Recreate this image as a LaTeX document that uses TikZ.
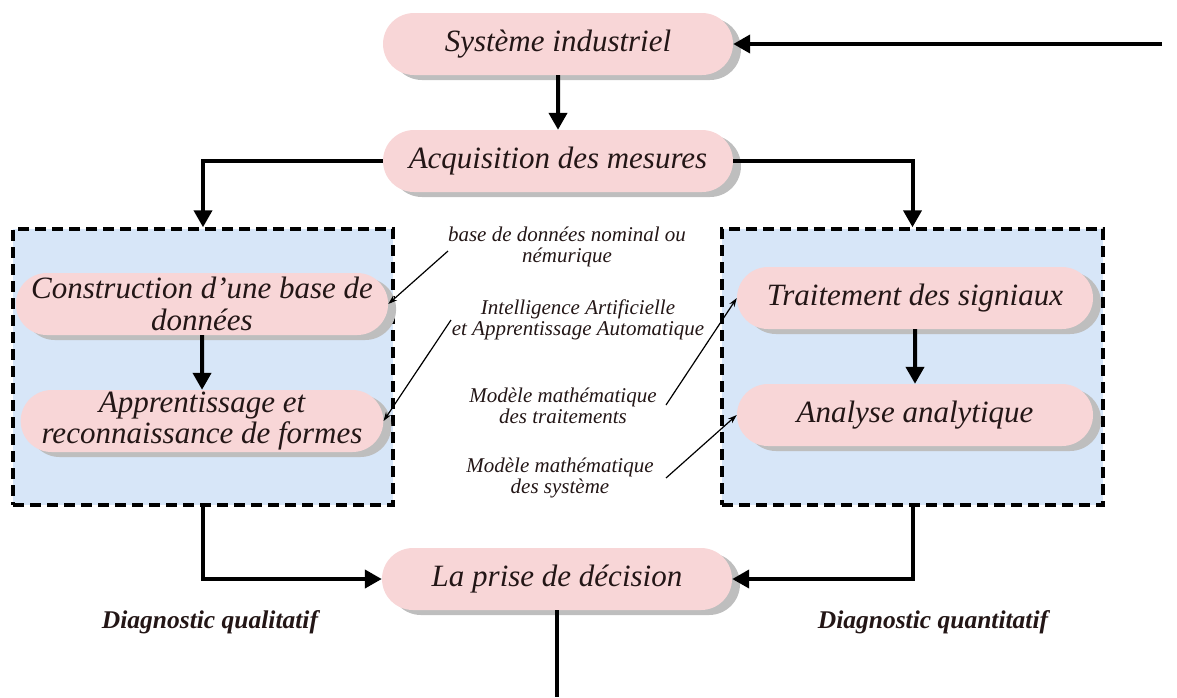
\documentclass[tikz,border=0pt]{standalone}
\usepackage{fontspec}
\setmainfont{Liberation Serif}
\usetikzlibrary{arrows.meta,shapes.misc,shadows}
\definecolor{pillpink}{RGB}{248,214,215}
\definecolor{pillshadow}{RGB}{190,190,190}
\definecolor{panelblue}{RGB}{215,230,248}
\definecolor{inkdark}{RGB}{35,22,22}
\begin{document}
\begin{tikzpicture}[x=1pt,y=-1pt,
  pill/.style={rounded rectangle, fill=pillpink, inner sep=0pt, minimum height=62pt,
    align=center, text=inkdark, font=\fontsize{31}{31.5}\selectfont\itshape,
    drop shadow={shadow xshift=8pt, shadow yshift=-5pt, fill=pillshadow, opacity=1}},
  panel/.style={draw=black, fill=panelblue, line width=3.5pt, dash pattern=on 11pt off 6pt,
    inner sep=0pt, minimum height=276pt},
  flow/.style={line width=4pt, -{Triangle[length=17pt,width=18pt]}},
  plain/.style={line width=4pt},
  note/.style={font=\fontsize{21}{21}\selectfont\itshape, align=center, text=inkdark, inner sep=0pt},
  pointer/.style={line width=1.2pt, -{Stealth[length=9pt,width=6pt]}},
  verdict/.style={font=\fontsize{25.5}{28}\selectfont\bfseries\itshape, text=inkdark, inner sep=0pt}
]
\useasboundingbox (0,0) rectangle (1177,697);

% dashed panels for the two diagnostic families
\node (lpanel) [panel, minimum width=380pt] at (203,367) {};
\node (rpanel) [panel, minimum width=381pt] at (912.5,367) {};

% process steps
\node (sys)   [pill, minimum width=350pt] at (558,44)  {Système industriel};
\node (acq)   [pill, minimum width=350pt] at (558,161) {Acquisition des mesures};
\node (cons)  [pill, minimum width=359pt] at (202,304) {Construction d'une base de\\données};
\node (app)   [pill, minimum width=359pt] at (202,421) {Apprentissage et\\reconnaissance de formes};
\node (trait) [pill, minimum width=356pt] at (915,298) {Traitement des signiaux};
\node (ana)   [pill, minimum width=356pt] at (915,415) {Analyse analytique};
\node (dec)   [pill, minimum width=350pt] at (557,579) {La prise de décision};

% side notes
\node (n1) [note] at (567,247) {base de données nominal ou\\némurique};
\node (n2) [note] at (578,320) {Intelligence Artificielle\\et Apprentissage Automatique};
\node (n3) [note] at (563,406) {Modèle mathématique\\des traitements};
\node (n4) [note] at (560,478) {Modèle mathématique\\des système};

\node (q1) [verdict] at (210,622) {Diagnostic qualitatif};
\node (q2) [verdict] at (933,622) {Diagnostic quantitatif};

% note pointers
\coordinate (t1) at (448,251);
\coordinate (t2) at (451,320);
\coordinate (t3) at (666,405);
\coordinate (t4) at (666,478);
\draw[pointer] (t1) -- (cons.east);
\draw[pointer] (t2) -- (app.east);
\draw[pointer] (t3) -- (trait.west);
\draw[pointer] (t4) -- (ana.west);

% main flow
\coordinate (fb) at (1162,44);
\coordinate (bottom) at (558,697);
\draw[flow] (fb) -- (sys.east);
\draw[flow] (sys) -- (acq);
\draw[flow] (acq.west) -| (lpanel.north);
\draw[flow] (acq.east) -| (rpanel.north);
\draw[flow] (cons) -- (app);
\draw[flow] (trait) -- (ana);
\draw[flow] (lpanel.south) |- (dec.west);
\draw[flow] (rpanel.south) |- (dec.east);
\draw[plain] (dec.south) -- (dec.south |- bottom);
\end{tikzpicture}
\end{document}
